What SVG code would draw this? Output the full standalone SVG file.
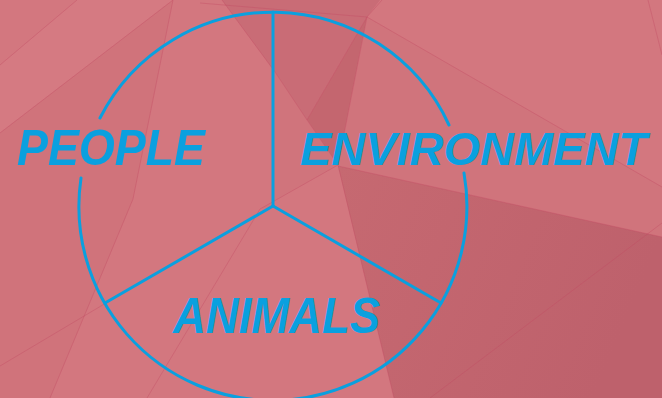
<svg xmlns="http://www.w3.org/2000/svg" width="662" height="398" viewBox="0 0 662 398">
  <defs>
    <linearGradient id="darkGrad" x1="0" y1="0" x2="1" y2="0.3">
      <stop offset="0" stop-color="#c66971"/>
      <stop offset="1" stop-color="#be616c"/>
    </linearGradient>
    <style>
      .facet { stroke: none; }
      .edge { fill: none; stroke: #c24a62; stroke-opacity: 0.45; stroke-width: 0.8; }
      .ring { fill: none; stroke: #0aa0df; stroke-width: 3; stroke-linecap: round; }
      .label { font-family: "Liberation Sans", Arial, sans-serif; font-weight: bold; font-style: italic; font-size: 50px; fill: #0aa0df; }
    </style>
  </defs>

  <g id="background">
    <rect x="0" y="0" width="662" height="398" fill="#d3777f"/>
    <polygon class="facet" points="0,65 77,0 173,0 0,133" fill="#d57a82"/>
    <polygon class="facet" points="222,0 380,0 367,17 307,120 275,72" fill="#c96c76"/>
    <polygon class="facet" points="367,17 307,120 338,165" fill="#c4666f"/>
    <polygon class="facet" points="367,17 662,187 662,237 338,166" fill="#d0747c"/>
    <polygon class="facet" points="338,166 662,237 662,398 394,398" fill="url(#darkGrad)"/>
    <polygon class="facet" points="275,72 307,120 338,165 260,209 273,206" fill="#d0747c"/>
    <polygon class="facet" points="0,133 173,0 133,199 50,398 0,398" fill="#d0737b"/>
    <polyline class="edge" points="0,65 77,0"/>
    <polyline class="edge" points="0,133 173,0"/>
    <polyline class="edge" points="173,0 133,199 50,398"/>
    <polyline class="edge" points="0,366 106,303"/>
    <polyline class="edge" points="338,165 260,209 147,398"/>
    <polyline class="edge" points="200,3 367,17"/>
    <polyline class="edge" points="222,0 275,72 307,120 338,165"/>
    <polyline class="edge" points="367,17 307,120"/>
    <polyline class="edge" points="382,0 367,17 338,165 394,398"/>
    <polyline class="edge" points="367,17 662,187"/>
    <polyline class="edge" points="338,166 662,237"/>
    <polyline class="edge" points="662,223 430,398"/>
    <polyline class="edge" points="648,0 662,55"/>
  </g>

  <g id="connectors">
    <path class="ring" d="M100,118 A194,194 0 0 1 449,125"/>
    <path class="ring" d="M81,178 A194,194 0 1 0 464,173"/>
    <line class="ring" x1="273" y1="12" x2="273" y2="206"/>
    <line class="ring" x1="273" y1="206" x2="105" y2="303"/>
    <line class="ring" x1="273" y1="206" x2="441" y2="303"/>
  </g>

  <g id="node-people">
    <text class="label" x="17" y="165" textLength="188" lengthAdjust="spacingAndGlyphs">PEOPLE</text>
  </g>
  <g id="node-environment">
    <text class="label" x="300" y="165" style="font-size:47px" textLength="347" lengthAdjust="spacingAndGlyphs">ENVIRONMENT</text>
  </g>
  <g id="node-animals">
    <text class="label" x="173" y="333" textLength="207" lengthAdjust="spacingAndGlyphs">ANIMALS</text>
  </g>
</svg>
